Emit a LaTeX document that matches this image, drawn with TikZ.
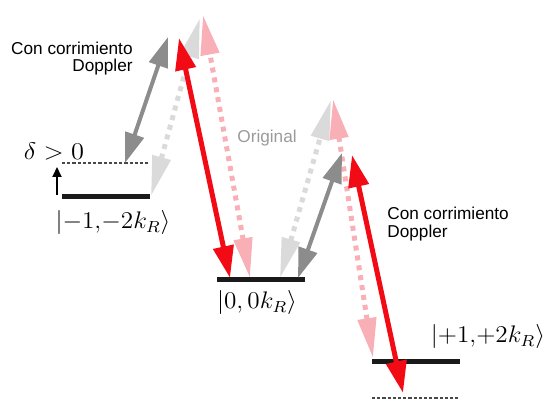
\documentclass[tikz,border=0pt]{standalone}
\usepackage{fontspec}
\usepackage{graphicx}
\newfontfamily\labelfont{Liberation Sans}
\usetikzlibrary{arrows.meta}
\definecolor{dgray}{HTML}{8C8C8C}
\definecolor{lgray}{HTML}{DADADA}
\definecolor{pinkish}{HTML}{F8B0B6}
\definecolor{redline}{HTML}{F20A14}
\definecolor{textgray}{HTML}{9A9A9A}
\definecolor{barblack}{HTML}{1A1A1A}
\tikzset{
  redarrow/.style={draw=redline, line width=2.5pt,
    {Triangle[length=16pt,width=10pt,fill=redline]}-{Triangle[length=16pt,width=10pt,fill=redline]}},
  grayarrow/.style={draw=dgray, line width=2pt,
    {Triangle[length=15pt,width=9.5pt,fill=dgray]}-{Triangle[length=15pt,width=9.5pt,fill=dgray]}},
  lgrayarrow/.style={draw=lgray, line width=2.5pt, dash pattern=on 2.5pt off 2.5pt,
    {Triangle[length=20pt,width=9pt,fill=lgray]}-{Triangle[length=20pt,width=9pt,fill=lgray]}},
  pinkarrow/.style={draw=pinkish, line width=2.5pt, dash pattern=on 2.5pt off 2.5pt,
    {Triangle[length=20pt,width=9pt,fill=pinkish]}-{Triangle[length=20pt,width=9pt,fill=pinkish]}},
  levelbar/.style={draw=barblack, line width=2.5pt},
  shiftline/.style={draw=barblack!80, line width=0.8pt, dash pattern=on 1.6pt off 1pt},
  sanslbl/.style={inner sep=0pt, font=\labelfont\fontsize{8.6}{9}\selectfont},
  mathlbl/.style={inner sep=0pt, font=\fontsize{12}{14}\selectfont},
}
\begin{document}
\begin{tikzpicture}[x=0.5pt,y=-0.5pt]
\useasboundingbox (0,0) rectangle (545,399);

% level endpoints
\coordinate (La) at (62,197); \coordinate (Lb) at (150,197);
\coordinate (LDa) at (62,163); \coordinate (LDb) at (150,163);
\coordinate (Ma) at (217,280); \coordinate (Mb) at (305,280);
\coordinate (Ra) at (372,362); \coordinate (Rb) at (460,362);
\coordinate (RDa) at (372,398); \coordinate (RDb) at (460,398);

% arrow endpoints
\coordinate (g1a) at (125,163); \coordinate (g1b) at (168,37);
\coordinate (l1a) at (151,196); \coordinate (l1b) at (200,18);
\coordinate (r1a) at (179,38);  \coordinate (r1b) at (230,278);
\coordinate (p1a) at (203,15);  \coordinate (p1b) at (250,278);
\coordinate (l2a) at (280,278); \coordinate (l2b) at (331,100);
\coordinate (g2a) at (298,278); \coordinate (g2b) at (342,153);
\coordinate (p2a) at (333,99);  \coordinate (p2b) at (373,358);
\coordinate (r2a) at (352,155); \coordinate (r2b) at (403,393);
\coordinate (sa) at (57,195); \coordinate (sb) at (57,167);

% levels
\draw[levelbar] (La) -- (Lb);
\draw[shiftline] (LDa) -- (LDb);
\draw[levelbar] (Ma) -- (Mb);
\draw[levelbar] (Ra) -- (Rb);
\draw[shiftline] (RDa) -- (RDb);

% light (original) arrows
\draw[lgrayarrow] (l1a) -- (l1b);
\draw[pinkarrow] (p1b) -- (p1a);
\draw[lgrayarrow] (l2a) -- (l2b);
\draw[pinkarrow] (p2b) -- (p2a);

% doppler shifted arrows
\draw[grayarrow] (g1a) -- (g1b);
\draw[redarrow] (r1a) -- (r1b);
\draw[grayarrow] (g2a) -- (g2b);
\draw[redarrow] (r2a) -- (r2b);

% small shift arrow
\draw[line width=1pt, -{Triangle[length=5pt,width=4.5pt]}] (sa) -- (sb);

% labels
\node[mathlbl, anchor=base] (delta) at (54,160) {\scalebox{1.1}[1]{$\delta>0$}};
\node[mathlbl] (km1) at (113,223) {\scalebox{1.05}[1]{$|{-}1{,}{-}2k_R\rangle$}};
\node[mathlbl] (k0) at (257,303) {\scalebox{1.05}[1]{$|0,0k_R\rangle$}};
\node[mathlbl] (kp1) at (488,337) {\scalebox{1.05}[1]{$|{+}1{,}{+}2k_R\rangle$}};

\node[sanslbl, anchor=base east] (dl1) at (133,55) {Con corrimiento};
\node[sanslbl, anchor=base east] (dl2) at (133,72) {Doppler};
\node[sanslbl, anchor=base west] (dr1) at (387,220) {Con corrimiento};
\node[sanslbl, anchor=base west] (dr2) at (387,238) {Doppler};
\node[sanslbl, anchor=base west, text=textgray] (orig) at (237,143) {Original};
\end{tikzpicture}
\end{document}
